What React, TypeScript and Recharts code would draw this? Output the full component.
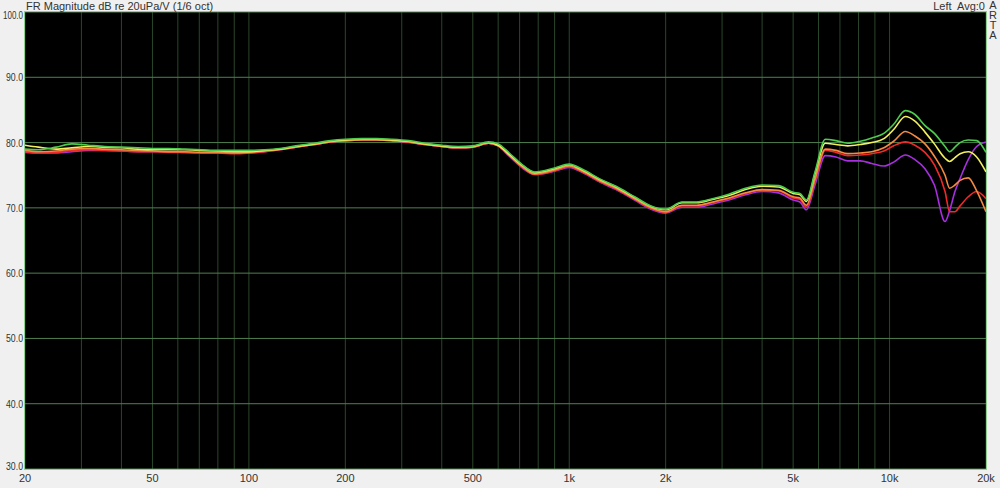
import React from 'react';
import { LineChart, Line, XAxis, YAxis, CartesianGrid } from 'recharts';

// frequency points (Hz) shared by every trace
const FREQ = [
  20, 22, 25, 28, 31.5, 35.5, 40, 45, 50, 56,
  63, 71, 80, 90, 100, 112, 125, 140, 160, 180,
  200, 225, 250, 280, 315, 355, 400, 450, 500, 560,
  600, 650, 710, 780, 900, 1000, 1100, 1250, 1400, 1600,
  1800, 2000, 2250, 2500, 2800, 3150, 3550, 4000, 4500, 5000,
  5250, 5500, 5850, 6300, 6800, 7400, 8100, 8800, 9600, 10300,
  11200, 12000, 12900, 13800, 14900, 15400, 16000, 16600, 17600, 18700, 20000,
];

const GREEN = [
  79.0, 78.9, 79.3, 79.8, 79.6, 79.4, 79.3, 79.2, 79.1, 79.1,
  79.0, 78.9, 78.8, 78.8, 78.8, 78.9, 79.1, 79.5, 79.9, 80.3,
  80.5, 80.6, 80.6, 80.5, 80.3, 79.9, 79.6, 79.4, 79.5, 80.1,
  79.8, 78.4, 76.7, 75.5, 76.1, 76.7, 75.9, 74.4, 73.3, 71.7,
  70.3, 69.8, 70.9, 70.9, 71.4, 72.1, 73.0, 73.5, 73.4, 72.4,
  72.2, 71.2, 75.5, 80.5, 80.3, 79.9, 80.2, 80.7, 81.4, 82.8,
  84.9, 84.3, 82.6, 81.4, 79.4, 78.6, 79.3, 80.0, 80.4, 80.3, 78.5,
];

const YELLOW = [
  79.6, 79.3, 79.0, 79.2, 79.4, 79.3, 79.2, 79.0, 78.9, 78.9,
  78.9, 78.8, 78.7, 78.6, 78.6, 78.8, 79.0, 79.4, 79.8, 80.2,
  80.4, 80.5, 80.5, 80.4, 80.2, 79.8, 79.5, 79.3, 79.4, 80.0,
  79.6, 78.2, 76.6, 75.4, 76.0, 76.6, 75.8, 74.3, 73.2, 71.6,
  70.2, 69.7, 70.8, 70.8, 71.3, 71.9, 72.8, 73.3, 73.2, 72.2,
  72.0, 71.0, 75.2, 79.9, 79.7, 79.5, 79.7, 80.0, 80.6, 82.0,
  84.0, 83.3, 81.6, 79.8, 77.6, 77.1, 77.7, 78.3, 78.6, 77.8, 75.5,
];

const ORANGE = [
  78.8, 78.6, 78.7, 79.0, 79.1, 79.0, 78.9, 78.8, 78.7, 78.6,
  78.6, 78.5, 78.5, 78.4, 78.5, 78.7, 79.0, 79.3, 79.7, 80.1,
  80.3, 80.4, 80.4, 80.3, 80.1, 79.7, 79.4, 79.2, 79.3, 79.9,
  79.5, 78.0, 76.4, 75.2, 75.8, 76.4, 75.6, 74.1, 73.0, 71.4,
  70.0, 69.4, 70.4, 70.4, 70.9, 71.5, 72.3, 72.8, 72.7, 71.7,
  71.5, 70.4, 74.4, 79.0, 78.8, 78.3, 78.4, 78.6, 79.2, 80.2,
  81.7, 81.0, 79.8, 77.9, 75.0, 73.0, 73.5, 74.2, 74.6, 72.6, 69.4,
];

const RED = [
  78.6, 78.4, 78.5, 78.8, 78.9, 78.8, 78.7, 78.6, 78.6, 78.5,
  78.5, 78.4, 78.4, 78.3, 78.4, 78.6, 78.9, 79.3, 79.7, 80.1,
  80.3, 80.4, 80.4, 80.3, 80.1, 79.7, 79.4, 79.2, 79.3, 79.9,
  79.5, 78.0, 76.3, 75.1, 75.7, 76.3, 75.5, 74.0, 72.9, 71.3,
  69.9, 69.3, 70.3, 70.3, 70.8, 71.4, 72.2, 72.7, 72.6, 71.5,
  71.3, 70.1, 74.1, 78.8, 78.5, 78.0, 78.1, 78.3, 78.7, 79.5,
  80.1, 79.6, 78.5, 76.6, 72.5, 69.4, 69.4, 70.3, 71.7, 72.5, 71.4,
];

const PURPLE = [
  78.5, 78.4, 78.4, 78.6, 78.8, 78.8, 78.7, 78.6, 78.6, 78.6,
  78.5, 78.4, 78.4, 78.4, 78.4, 78.6, 78.9, 79.3, 79.7, 80.1,
  80.3, 80.4, 80.4, 80.3, 80.0, 79.7, 79.4, 79.2, 79.3, 79.9,
  79.5, 77.9, 76.2, 75.1, 75.6, 76.2, 75.4, 73.9, 72.8, 71.2,
  69.8, 69.2, 70.1, 70.1, 70.6, 71.2, 72.0, 72.5, 72.3, 71.2,
  70.9, 69.7, 73.5, 78.0, 77.8, 77.2, 77.2, 76.8, 76.4, 77.0,
  78.1, 77.4, 76.0, 73.5, 67.9, 69.6, 72.5, 74.5, 77.4, 79.4, 80.1,
];

const X_GRID = [
  20, 30, 40, 50, 60, 70, 80, 90, 100,
  200, 300, 400, 500, 600, 700, 800, 900, 1000,
  2000, 3000, 4000, 5000, 6000, 7000, 8000, 9000, 10000, 20000,
];
const X_LABELS: Record<number, string> = {
  20: '20', 50: '50', 100: '100', 200: '200', 500: '500',
  1000: '1k', 2000: '2k', 5000: '5k', 10000: '10k', 20000: '20k',
};
const Y_TICKS = [30, 40, 50, 60, 70, 80, 90, 100];

const SERIES = [
  { key: 'purple', values: PURPLE, color: '#a82ee0' },
  { key: 'red', values: RED, color: '#f02a2a' },
  { key: 'orange', values: ORANGE, color: '#f58a40' },
  { key: 'yellow', values: YELLOW, color: '#f2f060' },
  { key: 'green', values: GREEN, color: '#4ccc4c' },
];

const data = FREQ.map((f, i) => {
  const row: Record<string, number> = { f };
  SERIES.forEach((s) => (row[s.key] = s.values[i]));
  return row;
});

const FONT = '"Liberation Sans", Arial, sans-serif';

const XTick = (props: any) => {
  const { x, payload } = props;
  const label = X_LABELS[payload.value];
  if (!label) return <g />;
  return (
    <text x={x} y={482} textAnchor="middle" fontSize={11} fontFamily={FONT} fill="#333">
      {label}
    </text>
  );
};

const YTick = (props: any) => {
  const { y, payload } = props;
  const label = payload.value.toFixed(1);
  let dy = 4;
  if (payload.value === 100) dy = 7;
  if (payload.value === 30) dy = 1;
  return (
    <text
      x={23}
      y={y + dy}
      textAnchor="end"
      fontSize={10.5}
      fontFamily={FONT}
      fill="#333"
      textLength={label.length > 4 ? 20 : 17}
      lengthAdjust="spacingAndGlyphs"
    >
      {label}
    </text>
  );
};

export default function App() {
  return (
    <div
      style={{
        position: 'absolute',
        left: 0,
        top: 0,
        width: 1000,
        height: 488,
        background: '#f0f0f0',
        fontFamily: FONT,
      }}
    >
      <LineChart
        width={1000}
        height={488}
        data={data}
        margin={{ top: 12, right: 14, left: 0, bottom: 0 }}
      >
        <CartesianGrid fill="#000" stroke="#2a462a" horizontal={false} vertical={true} />
        <CartesianGrid stroke="#4f7f4f" horizontal={true} vertical={false} />
        <XAxis
          dataKey="f"
          type="number"
          scale="log"
          domain={[20, 20000]}
          ticks={X_GRID}
          allowDataOverflow
          axisLine={false}
          tickLine={false}
          tickSize={0}
          height={19}
          tick={<XTick />}
          interval={0}
        />
        <YAxis
          type="number"
          domain={[30, 100]}
          ticks={Y_TICKS}
          allowDataOverflow
          axisLine={false}
          tickLine={false}
          tickSize={0}
          width={25}
          tick={<YTick />}
          interval={0}
        />
        {SERIES.map((s) => (
          <Line
            key={s.key}
            type="monotone"
            dataKey={s.key}
            stroke={s.color}
            strokeWidth={1.6}
            dot={false}
            isAnimationActive={false}
          />
        ))}
      </LineChart>
      <div
        style={{
          position: 'absolute',
          left: 24,
          top: 11,
          width: 961,
          height: 457,
          border: '1px solid #8fcf8f',
          pointerEvents: 'none',
        }}
      />
      <div style={{ position: 'absolute', left: 26, top: 0, fontSize: 11, color: '#333', lineHeight: '12px' }}>
        FR Magnitude dB re 20uPa/V (1/6 oct)
      </div>
      <div style={{ position: 'absolute', right: 15, top: 0, fontSize: 11, color: '#333', lineHeight: '12px' }}>
        Left&nbsp; Avg:0
      </div>
      <div
        style={{
          position: 'absolute',
          left: 988,
          top: 0,
          width: 10,
          fontSize: 11,
          color: '#333',
          lineHeight: '10px',
          textAlign: 'center',
        }}
      >
        A<br />R<br />T<br />A
      </div>
    </div>
  );
}
